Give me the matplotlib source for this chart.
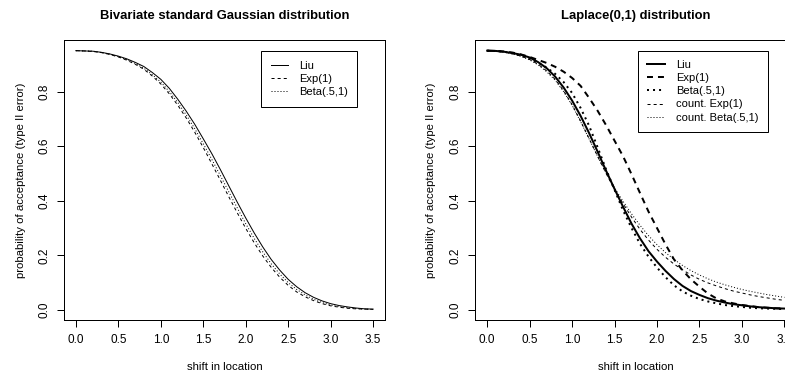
import matplotlib
matplotlib.use('Agg')
import matplotlib.pyplot as plt

# shift in location (x grid used for every curve)
shift = [0.0, 0.1, 0.2, 0.3, 0.4, 0.5, 0.6, 0.7, 0.8, 0.9,
         1.0, 1.1, 1.2, 1.3, 1.4, 1.5, 1.6, 1.7, 1.8, 1.9,
         2.0, 2.1, 2.2, 2.3, 2.4, 2.5, 2.6, 2.7, 2.8, 2.9,
         3.0, 3.1, 3.2, 3.3, 3.4, 3.5]

# left panel: bivariate standard gaussian
gauss_liu = [0.950, 0.949, 0.948, 0.944, 0.938, 0.930, 0.920, 0.907, 0.892, 0.870,
             0.845, 0.812, 0.772, 0.728, 0.680, 0.627, 0.573, 0.515, 0.455, 0.395,
             0.337, 0.282, 0.231, 0.185, 0.146, 0.112, 0.085, 0.063, 0.046, 0.033,
             0.023, 0.016, 0.011, 0.007, 0.004, 0.003]
gauss_exp = [0.950, 0.949, 0.947, 0.943, 0.936, 0.927, 0.915, 0.900, 0.882, 0.857,
             0.828, 0.792, 0.750, 0.703, 0.651, 0.595, 0.536, 0.476, 0.415, 0.356,
             0.299, 0.246, 0.198, 0.156, 0.120, 0.090, 0.066, 0.048, 0.034, 0.023,
             0.015, 0.010, 0.006, 0.004, 0.003, 0.002]
gauss_beta = [0.950, 0.949, 0.948, 0.943, 0.937, 0.928, 0.917, 0.903, 0.886, 0.862,
              0.835, 0.800, 0.760, 0.714, 0.664, 0.609, 0.552, 0.493, 0.433, 0.374,
              0.316, 0.262, 0.213, 0.169, 0.132, 0.100, 0.075, 0.055, 0.039, 0.027,
              0.018, 0.012, 0.008, 0.005, 0.003, 0.002]

# right panel: laplace(0,1)
lap_liu = [0.950, 0.949, 0.946, 0.941, 0.935, 0.925, 0.908, 0.886, 0.855, 0.815,
           0.767, 0.711, 0.648, 0.580, 0.510, 0.443, 0.378, 0.316, 0.262, 0.215,
           0.177, 0.143, 0.113, 0.088, 0.069, 0.055, 0.043, 0.034, 0.027, 0.021,
           0.017, 0.013, 0.010, 0.008, 0.006, 0.005]
lap_exp = [0.950, 0.949, 0.947, 0.943, 0.936, 0.927, 0.916, 0.905, 0.891, 0.873,
           0.850, 0.821, 0.777, 0.730, 0.677, 0.620, 0.563, 0.497, 0.428, 0.360,
           0.300, 0.240, 0.185, 0.145, 0.112, 0.085, 0.060, 0.042, 0.031, 0.024,
           0.018, 0.014, 0.010, 0.008, 0.006, 0.005]
lap_beta = [0.950, 0.949, 0.946, 0.940, 0.932, 0.921, 0.906, 0.888, 0.865, 0.835,
            0.795, 0.740, 0.675, 0.596, 0.515, 0.440, 0.365, 0.300, 0.242, 0.195,
            0.155, 0.120, 0.090, 0.068, 0.052, 0.040, 0.031, 0.024, 0.018, 0.014,
            0.011, 0.008, 0.006, 0.005, 0.004, 0.003]
lap_count_exp = [0.950, 0.949, 0.945, 0.939, 0.930, 0.918, 0.900, 0.876, 0.845, 0.803,
                 0.752, 0.692, 0.628, 0.563, 0.500, 0.442, 0.390, 0.340, 0.295, 0.256,
                 0.222, 0.193, 0.168, 0.147, 0.128, 0.112, 0.099, 0.088, 0.078, 0.069,
                 0.062, 0.055, 0.049, 0.044, 0.039, 0.035]
lap_count_beta = [0.950, 0.949, 0.945, 0.938, 0.929, 0.916, 0.898, 0.873, 0.842, 0.800,
                  0.750, 0.690, 0.627, 0.563, 0.502, 0.447, 0.398, 0.352, 0.310, 0.272,
                  0.239, 0.210, 0.185, 0.163, 0.144, 0.128, 0.114, 0.102, 0.092, 0.083,
                  0.075, 0.068, 0.062, 0.056, 0.051, 0.046]

xticks = [0.0, 0.5, 1.0, 1.5, 2.0, 2.5, 3.0, 3.5]
yticks = [0.0, 0.2, 0.4, 0.6, 0.8]

plt.rcParams['font.family'] = ['Liberation Sans', 'DejaVu Sans']
plt.rcParams['font.size'] = 8
plt.rcParams['lines.scale_dashes'] = False

px = 0.72  # one pixel in points at dpi 100
thin = px
thick = 2 * px

fig = plt.figure(figsize=(7.85, 3.75), dpi=100)
W, H = 785.0, 375.0
# axes boxes in pixels: left, top, right, bottom
ax1 = fig.add_axes([64 / W, 1 - 320.3 / H, 321 / W, 280 / H])
ax2 = fig.add_axes([475.3 / W, 1 - 320.3 / H, 321 / W, 280 / H])  # runs off the right edge like the original


def style_axes(ax, title, ylab_x):
    ax.set_xlim(-0.14, 3.64)
    ax.set_ylim(-0.038, 0.988)
    ax.set_xticks(xticks)
    ax.set_xticklabels(['%.1f' % t for t in xticks])
    ax.set_yticks(yticks)
    ax.set_yticklabels(['%.1f' % t for t in yticks])
    ax.tick_params(direction='out', length=4.8, width=px, color='black',
                   labelsize=8.5, pad=5)
    for lab in ax.get_yticklabels():
        lab.set_rotation(90)
        lab.set_va('center')
    for s in ax.spines.values():
        s.set_linewidth(px)
        s.set_color('black')
    ax.set_title(title, fontsize=9.4, fontweight='bold', pad=15.3)
    ax.set_xlabel('shift in location', fontsize=8.2)
    ax.xaxis.set_label_coords(0.5, -0.148)
    ax.set_ylabel('probability of acceptance (type II error)', fontsize=8.2)
    ax.yaxis.set_label_coords(ylab_x, 0.5)


def add_legend(ax, anchor, spacing):
    leg = ax.legend(loc='upper right', bbox_to_anchor=anchor, fontsize=8,
                    handlelength=1.56, handletextpad=1.0, borderpad=0.85,
                    labelspacing=spacing, fancybox=False, framealpha=1,
                    edgecolor='black', borderaxespad=0)
    leg.get_frame().set_linewidth(px)
    return leg


# left panel
ax1.plot(shift, gauss_liu, color='black', lw=thin, label='Liu')
ax1.plot(shift, gauss_exp, color='black', lw=thin, dashes=(2.2, 2.2), label='Exp(1)')
ax1.plot(shift, gauss_beta, color='black', lw=thin, dashes=(0.72, 1.44), label='Beta(.5,1)')
style_axes(ax1, 'Bivariate standard Gaussian distribution', -0.118)
add_legend(ax1, (0.914, 0.961), 0.29)

# right panel
ax2.plot(shift, lap_liu, color='black', lw=thick, label='Liu')
ax2.plot(shift, lap_exp, color='black', lw=thick, dashes=(4.3, 3.6), label='Exp(1)')
ax2.plot(shift, lap_beta, color='black', lw=thick, dashes=(1.44, 2.9), label='Beta(.5,1)')
ax2.plot(shift, lap_count_exp, color='black', lw=thin, dashes=(2.2, 2.2), label='count. Exp(1)')
ax2.plot(shift, lap_count_beta, color='black', lw=thin, dashes=(0.72, 1.44), label='count. Beta(.5,1)')
style_axes(ax2, 'Laplace(0,1) distribution', -0.121)
add_legend(ax2, (0.911, 0.963), 0.28)

fig.savefig('out.png', dpi=100)
